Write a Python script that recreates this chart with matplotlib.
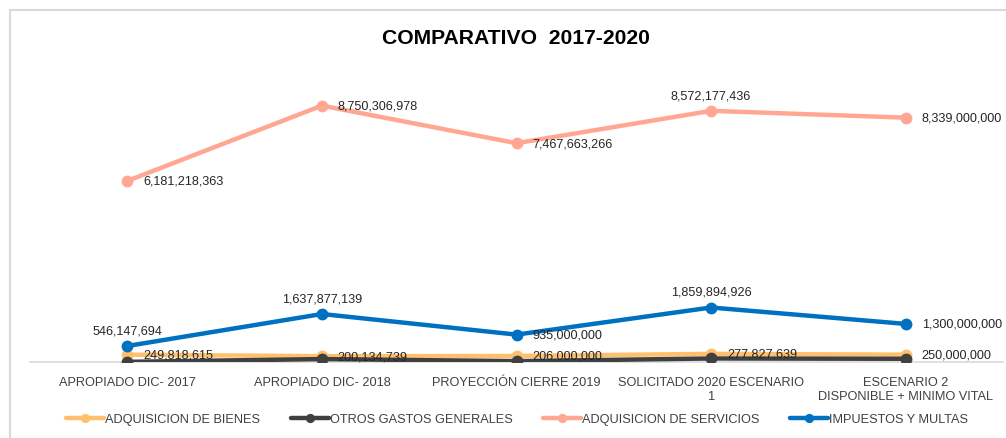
import matplotlib
matplotlib.use("Agg")
import matplotlib.pyplot as plt
from matplotlib.patches import Rectangle

plt.rcParams['font.family'] = ['Liberation Sans', 'DejaVu Sans']

categories = ["APROPIADO DIC- 2017", "APROPIADO DIC- 2018", "PROYECCIÓN CIERRE 2019",
              "SOLICITADO 2020 ESCENARIO\n1", "ESCENARIO 2\nDISPONIBLE + MINIMO VITAL"]

bienes = [249818615, 200134739, 206000000, 277827639, 250000000]
otros_gastos = [5000000, 100000000, 30000000, 120000000, 110000000]
servicios = [6181218363, 8750306978, 7467663266, 8572177436, 8339000000]
impuestos = [546147694, 1637877139, 935000000, 1859894926, 1300000000]

names = ["ADQUISICION DE BIENES", "OTROS GASTOS GENERALES",
         "ADQUISICION DE SERVICIOS", "IMPUESTOS Y MULTAS"]
colors = ["#FFC06E", "#404040", "#FFA792", "#0070C0"]

fig = plt.figure(figsize=(10.06, 4.39), dpi=100)
ax = fig.add_axes([30 / 1006, (439 - 363) / 439, 973 / 1006, 293 / 439])

x = list(range(len(categories)))
series = [bienes, otros_gastos, servicios, impuestos]
for vals, name, col in zip(series, names, colors):
    ax.plot(x, vals, color=col, lw=3.2, marker="o", ms=7.5, label=name,
            solid_capstyle="round", zorder=3)

def fmt(v):
    return f"{v:,.0f}"

# value labels: position per point ("r" = right, "a" = above)
label_specs = [
    (bienes, ["r", "r", "r", "r", "r"]),
    (servicios, ["r", "r", "r", "a", "r"]),
    (impuestos, ["a", "a", "r", "a", "r"]),
]
for vals, pos in label_specs:
    for xi, v, p in zip(x, vals, pos):
        if p == "r":
            ax.annotate(fmt(v), (xi, v), xytext=(11.5, 0), textcoords="offset points",
                        ha="left", va="center", fontsize=9.1, color="#262626", zorder=4)
        else:
            ax.annotate(fmt(v), (xi, v), xytext=(0, 7), textcoords="offset points",
                        ha="center", va="bottom", fontsize=9.1, color="#262626", zorder=4)

ax.set_xlim(-0.5, len(categories) - 0.5)
ax.set_ylim(0, 1e10)
ax.set_xticks(x)
ax.set_xticklabels(categories, fontsize=9.2, color="#404040", linespacing=1.25)
ax.tick_params(axis="x", length=0, pad=10)
ax.set_yticks([])
for s in ["top", "left", "right"]:
    ax.spines[s].set_visible(False)
ax.spines["bottom"].set_color("#D9D9D9")
ax.spines["bottom"].set_linewidth(1.2)
ax.patch.set_alpha(0)

fig.text(516 / 1006, 1 - 39 / 439, "COMPARATIVO  2017-2020", ha="center", va="center",
         fontsize=15.2, fontweight="bold", color="black")

fig.legend(loc="center", bbox_to_anchor=(517 / 1006, 1 - 420 / 439), ncol=4,
           frameon=False, fontsize=9.2, handlelength=3.0, handletextpad=0.05,
           columnspacing=2.4, labelcolor="#404040", markerscale=0.75)

fig.patches.append(Rectangle((10 / 1006, -0.1), 1.2, 1 - 11 / 439 + 0.1,
                             transform=fig.transFigure, fill=False,
                             edgecolor="#D9D9D9", lw=1.5, zorder=0))

fig.savefig("out.png", dpi=100)
